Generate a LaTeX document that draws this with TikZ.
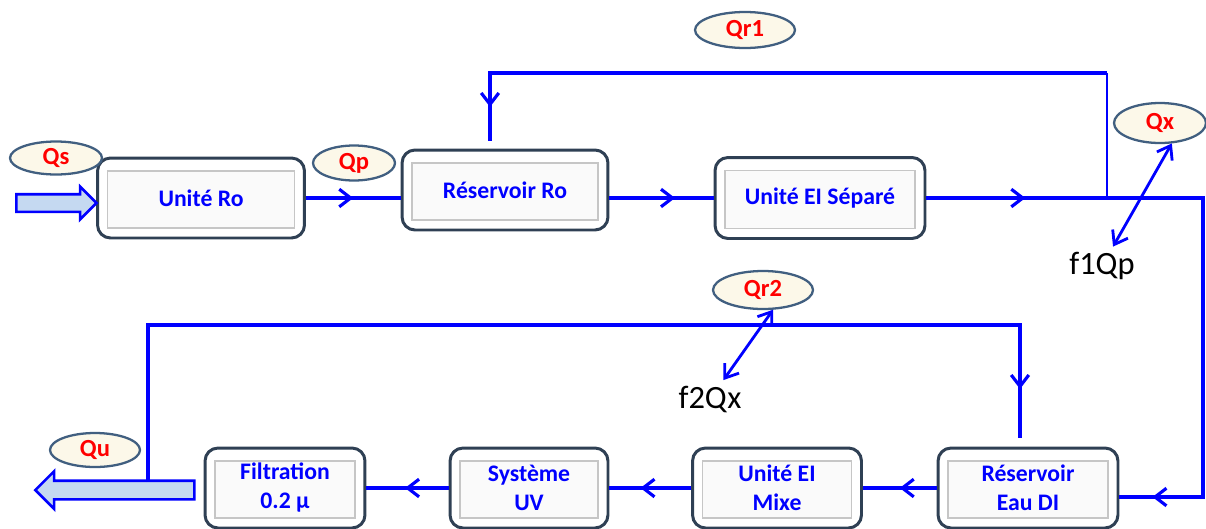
\documentclass[tikz,border=0pt]{standalone}
\usepackage{fontspec}
\setmainfont{Carlito}
\usepackage{tikz}
\usetikzlibrary{arrows.meta, shapes.geometric, shapes.arrows, decorations.markings}
\definecolor{flowblue}{RGB}{0,0,255}
\definecolor{frame}{RGB}{47,64,84}
\definecolor{cream}{RGB}{252,248,233}
\definecolor{ovalline}{RGB}{65,95,128}
\definecolor{pale}{RGB}{197,217,241}
\tikzset{unit/.style = {shape = rectangle, rounded corners = 0.26cm, draw = frame, line width = 1.7pt, fill = white, minimum height = 1.6cm, text = flowblue, align = center, font = \fontsize{13.5}{16.5}\selectfont\bfseries, path picture = {\draw[gray!45, fill = gray!4, line width = 0.7pt, sharp corners] ([shift = {(0.2cm, -0.26cm)}]path picture bounding box.north west) rectangle ([shift = {(-0.2cm, 0.2cm)}]path picture bounding box.south east);}}}
\tikzset{qlabel/.style = {shape = ellipse, draw = ovalline, line width = 1.3pt, fill = cream, text = red, inner sep = 0pt, font = \fontsize{14}{16}\selectfont\bfseries}}
\tikzset{coef/.style = {inner sep = 3pt, font = \fontsize{18.5}{20}\selectfont}}
\tikzset{edge/.style = {flowblue, line width = 1.8pt}}
\tikzset{flow at/.style = {postaction = {decorate, decoration = {markings, mark = at position #1 with {\arrow{Straight Barb[length = 6.5pt, width = 10pt]}}}}}}
\tikzset{link/.style = {<->, > = {Straight Barb[length = 7pt, width = 10pt]}, flowblue, line width = 1.6pt}}
\tikzset{bigarrow/.style = {single arrow, draw = flowblue, fill = pale, line width = 1.5pt, inner xsep = 0pt, text height = 0pt, text depth = 0pt, minimum width = 0pt}}

\begin{document}
\begin{tikzpicture}[x = 0.02cm, y = -0.02cm]
\useasboundingbox (0, 0) rectangle (1206, 528);

% upper row
\node[unit, minimum width = 4.14cm] (ro) at (201, 198) {Unité Ro};
\node[unit, minimum width = 4.12cm] (resRo) at (505, 190) {Réservoir Ro};
\node[unit, minimum width = 4.2cm, minimum height = 1.62cm] (sep) at (820, 198) {Unité EI Séparé};

% lower row
\node[unit, minimum width = 3.6cm] (eauDI) at (1028, 488) {Réservoir\\Eau DI};
\node[unit, minimum width = 3.38cm] (mixe) at (777, 488) {Unité EI\\Mixe};
\node[unit, minimum width = 3.16cm] (uv) at (529, 488) {Système\\UV};
\node[unit, minimum width = 3.2cm] (filt) at (285, 488) {Filtration\\0.2 µ};

% flow rates
\node[qlabel, minimum width = 1.84cm, minimum height = 0.66cm] (qs) at (56, 158) {Qs};
\node[qlabel, minimum width = 1.64cm, minimum height = 0.7cm] (qp) at (354, 163) {Qp};
\node[qlabel, minimum width = 2cm, minimum height = 0.72cm] (qr1) at (745, 30) {Qr1};
\node[qlabel, minimum width = 1.84cm, minimum height = 0.8cm] (qx) at (1160, 123) {Qx};
\node[qlabel, minimum width = 2cm, minimum height = 0.76cm] (qr2) at (763, 290) {Qr2};
\node[qlabel, minimum width = 1.8cm, minimum height = 0.68cm] (qu) at (95, 450) {Qu};

\node[coef] (f1) at (1102, 266) {f1Qp};
\node[coef] (f2) at (710, 399) {f2Qx};

% feed and product
\node[bigarrow, minimum height = 1.6cm, inner ysep = 0.15cm, single arrow head extend = 0.15cm] (feed) at (52, 203) {};
\node[bigarrow, shape border rotate = 180, minimum height = 3.18cm, inner ysep = 0.16cm, single arrow head extend = 0.19cm] (product) at (119.5, 490) {};

\coordinate (c1) at (1203, 198);
\coordinate (c2) at (1203, 497);
\coordinate (t1) at (1107, 198);
\coordinate (r1) at (1107, 73);
\coordinate (r1b) at (490, 73);
\coordinate (t2) at (148, 482);
\coordinate (r2) at (148, 325);
\coordinate (r2b) at (1020, 325);

% main line
\draw[edge, flow at = 0.5] (ro.east) -- (ro.east -| resRo.west);
\draw[edge, flow at = 0.63] (resRo.east |- sep.west) -- (sep.west);
\draw[edge, flow at = 0.15, flow at = 0.95] (sep.east) -- (c1) -- (c2) -- (c2 -| eauDI.east);

% first recycle
\draw[edge, line width = 0.9pt] (t1) -- (r1);
\draw[edge, flow at = 0.94, shorten >= 4pt] (r1) -- (r1b) -- (r1b |- resRo.north);

% lower row
\draw[edge, flow at = 0.5] (eauDI.west) -- (mixe.east);
\draw[edge, flow at = 0.62] (mixe.west) -- (uv.east);
\draw[edge, flow at = 0.53] (uv.west) -- (filt.east);

% second recycle
\draw[edge, flow at = 0.95, shorten >= 5pt] (t2) -- (r2) -- (r2b) -- (r2b |- eauDI.north);

% exchanges
\draw[link] (qx.-60) -- (f1);
\draw[link] (qr2.-63) -- (f2);
\end{tikzpicture}
\end{document}
